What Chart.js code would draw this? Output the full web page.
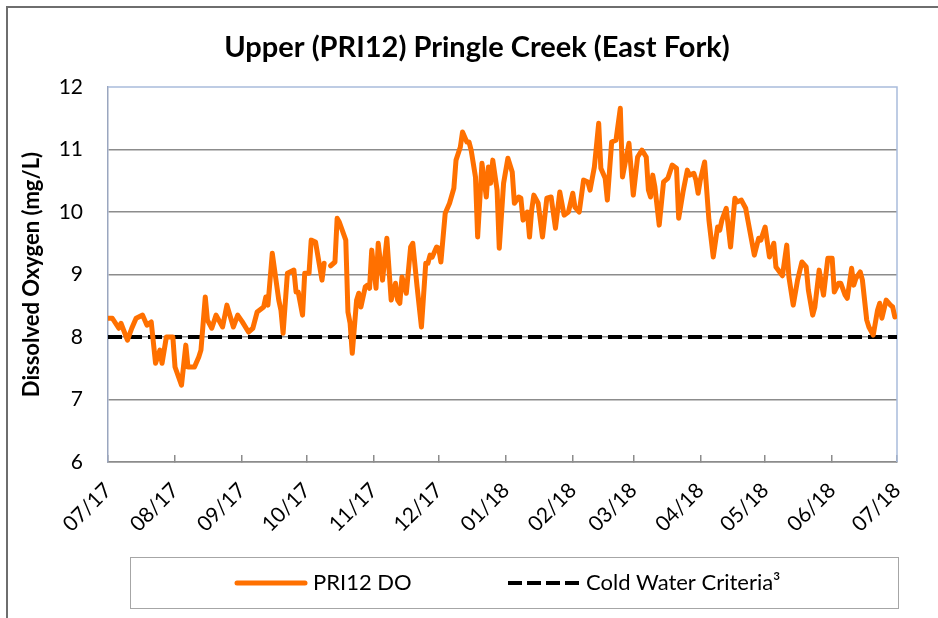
<!DOCTYPE html>
<html>
<head>
<meta charset="utf-8">
<script src="https://cdn.jsdelivr.net/npm/chart.js@4/dist/chart.umd.min.js"></script>
<style>
  body { margin: 0; background: #fff; }
  #wrap { width: 938px; height: 618px; }
</style>
</head>
<body>
<div id="wrap"><canvas id="grafico" width="938" height="618"></canvas></div>
<script>
// dias desde 01/07/2017 e valores
const days = [0, 2, 5, 6, 9, 11, 13, 16, 18, 20, 22, 24, 25, 27, 30, 31, 34, 36, 37, 40, 42, 43, 45, 46, 48, 50, 53, 55, 58, 60,
  62, 65, 67, 69, 72, 73, 74, 76, 79, 80, 81, 83, 86, 87, 88, 90, 91, 93, 94, 96, 99, 100, 102, 103, 105, 106, 107, 110, 111, 112,
  113, 115, 116, 117, 119, 120, 121, 122, 124, 125, 127, 129, 131, 133, 134, 135, 136, 138, 140, 141, 143, 145, 147, 148, 149, 150, 152, 153, 154, 156,
  158, 160, 161, 163, 164, 166, 167, 168, 170, 171, 173, 175, 176, 177, 178, 180, 181, 183, 185, 187, 188, 190, 191, 192, 194, 195, 196, 197, 199, 201,
  203, 205, 207, 209, 211, 213, 215, 216, 218, 220, 222, 223, 225, 227, 228, 230, 231, 233, 235, 237, 238, 241, 243, 245, 247, 249, 250, 251, 252, 253,
  255, 257, 258, 259, 261, 263, 264, 266, 268, 269, 271, 272, 273, 274, 276, 278, 280, 282, 283, 284, 286, 288, 290, 291, 293, 295, 296, 299, 301, 302,
  304, 306, 308, 309, 312, 314, 315, 317, 319, 321, 323, 324, 326, 327, 329, 331, 333, 335, 336, 338, 339, 341, 342, 344, 345, 346, 348, 349, 351, 352,
  354, 356, 357, 358, 360, 362, 363, 364];
const doValues = [8.30, 8.30, 8.14, 8.22, 7.95, 8.14, 8.30, 8.35, 8.19, 8.24, 7.58, 7.79, 7.58, 8.00, 8.00, 7.52, 7.23, 7.87, 7.52, 7.52, 7.68, 7.79, 8.64, 8.27, 8.14, 8.35, 8.16, 8.51, 8.16, 8.35,
  8.25, 8.08, 8.14, 8.40, 8.48, 8.64, 8.51, 9.34, 8.59, 8.43, 8.06, 9.02, 9.07, 8.72, 8.72, 8.35, 9.02, 9.02, 9.55, 9.52, 8.91, 9.18, null, 9.14, 9.20, 9.90, 9.84, 9.55, 8.40, 8.22,
  7.74, 8.59, 8.70, 8.48, 8.80, 8.83, 8.78, 9.39, 8.78, 9.50, 8.91, 9.58, 8.59, 8.86, 8.59, 8.54, 8.96, 8.70, 9.44, 9.50, 8.80, 8.16, 9.18, 9.18, 9.31, 9.28, 9.44, 9.42, 9.20, 9.98,
  10.14, 10.38, 10.83, 11.04, 11.28, 11.12, 11.12, 10.99, 10.56, 9.60, 10.78, 10.24, 10.72, 10.46, 10.83, 10.35, 9.42, 10.46, 10.86, 10.64, 10.14, 10.24, 10.22, 9.87, 10.00, 9.60, 10.03, 10.27, 10.14, 9.60,
  10.22, 10.24, 9.74, 10.32, 9.95, 10.00, 10.30, 10.08, 10.00, 10.51, 10.48, 10.35, 10.72, 11.42, 10.70, 10.54, 10.19, 11.12, 11.15, 11.66, 10.56, 11.10, 10.27, 10.88, 10.99, 10.88, 10.35, 10.24, 10.59, 10.40,
  9.79, 10.48, 10.51, 10.54, 10.75, 10.70, 9.90, 10.32, 10.67, 10.59, 10.62, 10.51, 10.30, 10.51, 10.80, 9.87, 9.28, 9.76, 9.71, 9.87, 10.06, 9.44, 10.22, 10.16, 10.19, 10.06, 9.87, 9.31, 9.58, 9.55,
  9.76, 9.28, 9.50, 9.12, 8.98, 9.47, 8.96, 8.51, 8.91, 9.20, 9.12, 8.75, 8.35, 8.48, 9.07, 8.67, 9.26, 9.26, 8.72, 8.86, 8.86, 8.67, 8.62, 9.10, 8.83, 8.94, 9.04, 8.91, 8.27, 8.16,
  8.03, 8.43, 8.54, 8.30, 8.59, 8.51, 8.48, 8.32];

// critério de água fria
const critDays = [0, 365];
const critValues = [8, 8];

// rótulos do eixo x (início de cada mês)
const monthDays = [0, 31, 62, 92, 123, 153, 184, 215, 243, 274, 304, 335, 365];
const monthLabels = ['07/17', '08/17', '09/17', '10/17', '11/17', '12/17', '01/18', '02/18', '03/18', '04/18', '05/18', '06/18', '07/18'];

const FONT = 'Lato, "Open Sans", sans-serif';
const LARANJA = 'rgb(255,112,0)';

// moldura, título e legenda desenhados à mão
const moldura = {
  id: 'moldura',
  beforeDraw(chart) {
    const ctx = chart.ctx;
    ctx.save();
    ctx.strokeStyle = '#6e6e6e';
    ctx.lineWidth = 2;
    ctx.strokeRect(7, 7, 1000, 1000);
    ctx.fillStyle = '#000';
    ctx.font = 'bold 29px ' + FONT;
    ctx.textAlign = 'center';
    ctx.textBaseline = 'alphabetic';
    ctx.fillText('Upper (PRI12) Pringle Creek (East Fork)', 477, 57);
    ctx.restore();
  },
  beforeDatasetsDraw(chart) {
    const {ctx, chartArea} = chart;
    ctx.save();
    ctx.strokeStyle = '#a9bcdc';
    ctx.lineWidth = 1.5;
    ctx.beginPath();
    ctx.moveTo(chartArea.left, chartArea.top);
    ctx.lineTo(chartArea.right, chartArea.top);
    ctx.lineTo(chartArea.right, chartArea.bottom);
    ctx.stroke();
    ctx.restore();
  },
  afterDraw(chart) {
    const ctx = chart.ctx;
    ctx.save();
    ctx.strokeStyle = '#a6a6a6';
    ctx.lineWidth = 1;
    ctx.strokeRect(130.5, 557.5, 768, 51);
    const y = 583;
    ctx.lineCap = 'round';
    ctx.strokeStyle = LARANJA;
    ctx.lineWidth = 5;
    ctx.beginPath(); ctx.moveTo(237, y); ctx.lineTo(305, y); ctx.stroke();
    ctx.strokeStyle = '#000';
    ctx.lineWidth = 4;
    ctx.lineCap = 'butt';
    ctx.setLineDash([14, 5]);
    ctx.beginPath(); ctx.moveTo(508, y); ctx.lineTo(581, y); ctx.stroke();
    ctx.setLineDash([]);
    ctx.fillStyle = '#000';
    ctx.font = '22px ' + FONT;
    ctx.textAlign = 'left';
    ctx.textBaseline = 'middle';
    ctx.fillText('PRI12 DO', 313, y);
    ctx.fillText('Cold Water Criteria³', 586, y);
    ctx.restore();
  }
};

const ctx = document.getElementById('grafico').getContext('2d');
new Chart(ctx, {
  type: 'line',
  data: {
    datasets: [{
      label: 'PRI12 DO',
      data: days.map((d, i) => ({ x: d, y: doValues[i] })),
      borderColor: LARANJA,
      borderWidth: 5,
      borderJoinStyle: 'round',
      borderCapStyle: 'round',
      pointRadius: 0,
      tension: 0,
      spanGaps: false
    }, {
      label: 'Cold Water Criteria³',
      data: critDays.map((d, i) => ({ x: d, y: critValues[i] })),
      borderColor: '#000',
      borderWidth: 4,
      borderDash: [14, 6],
      pointRadius: 0
    }]
  },
  options: {
    responsive: false,
    animation: false,
    layout: { padding: { top: 87, right: 41, left: 0, bottom: 0 } },
    plugins: { legend: { display: false }, tooltip: { enabled: false } },
    scales: {
      x: {
        type: 'linear',
        min: 0,
        max: 365,
        afterBuildTicks: scale => { scale.ticks = monthDays.map(v => ({ value: v })); },
        afterFit: scale => { scale.height = 156; },
        ticks: {
          callback: (v, i) => monthLabels[i],
          minRotation: 45,
          maxRotation: 45,
          autoSkip: false,
          padding: 23,
          color: '#000',
          font: { family: FONT, size: 21 }
        },
        grid: { drawOnChartArea: false, tickLength: -7, color: '#8c8c8c', lineWidth: 1.5 },
        border: { color: '#8c8c8c', width: 1.5 }
      },
      y: {
        min: 6,
        max: 12,
        afterFit: scale => { scale.width = 108; },
        ticks: {
          stepSize: 1,
          padding: 25,
          color: '#000',
          font: { family: FONT, size: 21 }
        },
        grid: { drawTicks: false, color: ctx => ctx.tick.value === 12 ? 'rgba(0,0,0,0)' : '#8c8c8c', lineWidth: 1.5 },
        border: { color: '#9aa6bf', width: 1.5 },
        title: {
          display: true,
          text: 'Dissolved Oxygen (mg/L)',
          color: '#000',
          padding: { top: 19, bottom: 0 },
          font: { family: FONT, size: 22, weight: 'bold' }
        }
      }
    }
  },
  plugins: [moldura]
});
</script>
</body>
</html>
